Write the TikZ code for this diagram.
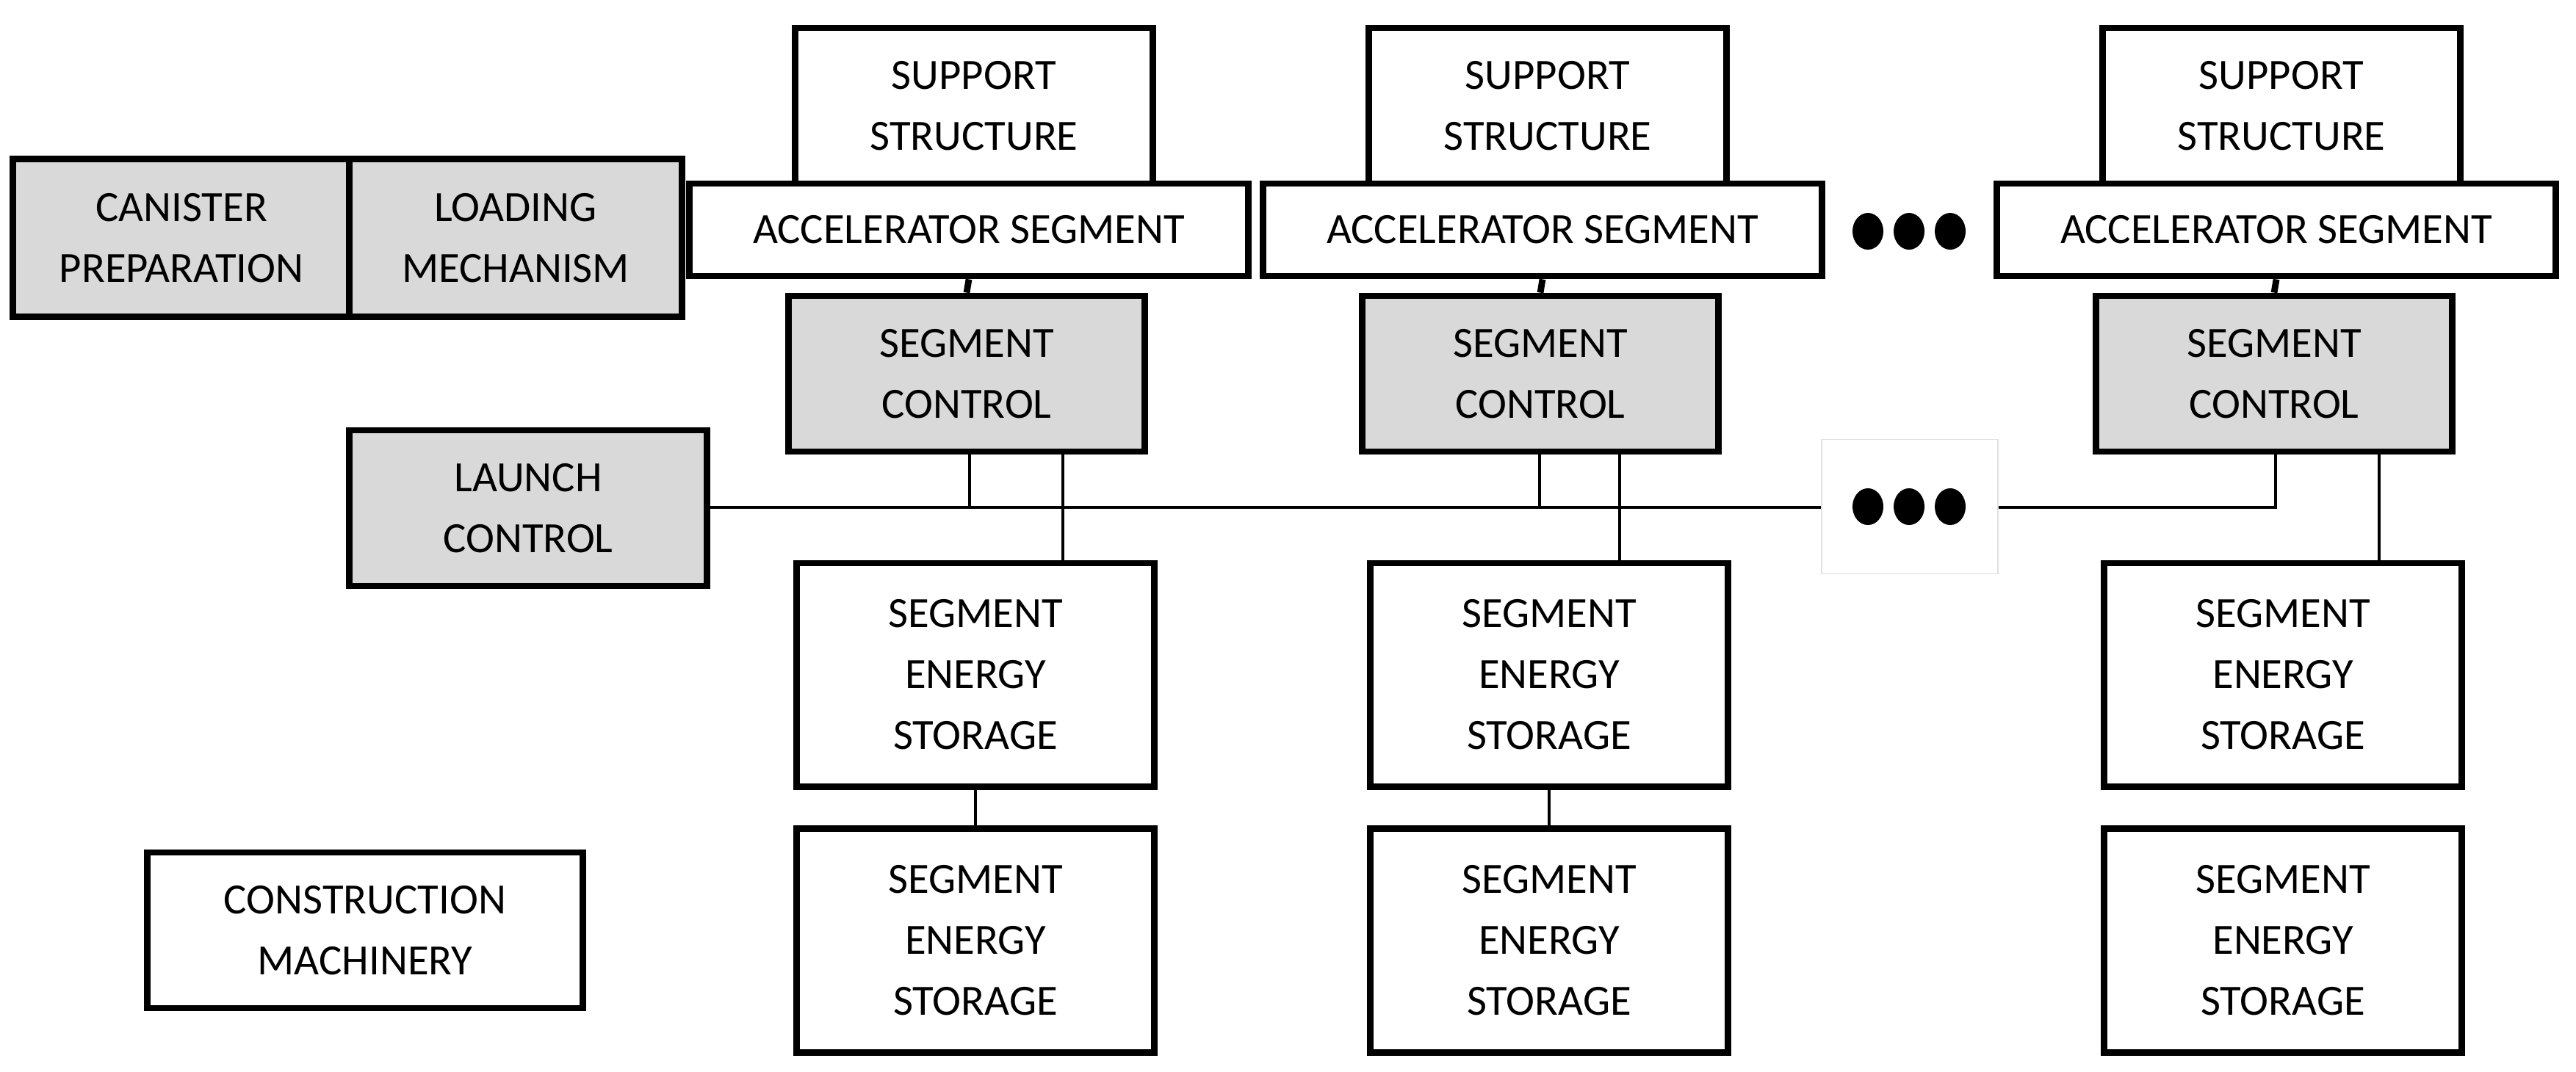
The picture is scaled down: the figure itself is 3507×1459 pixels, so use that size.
\documentclass[tikz,border=0pt]{standalone}
\usepackage{fontspec}
\usetikzlibrary{shapes.geometric}
\setmainfont{Carlito}
\begin{document}
\begin{tikzpicture}[x=0.01cm,y=-0.01cm,
  box/.style={draw,line width=2.5pt,align=center,inner sep=0pt,font=\fontsize{16.7}{23.6}\selectfont},
  gbox/.style={box,fill=black!15},
  thin/.style={line width=1.3pt},
  dot/.style={ellipse,fill=black,minimum width=0.42cm,minimum height=0.5cm,inner sep=0pt}]
\useasboundingbox (0,0) rectangle (3507,1459);
\foreach \n/\dx/\ax/\bx in {1/0/1320/1447, 2/781/2096/2205, 3/1780/3098/3239}{
  \node[box,minimum width=4.87cm,minimum height=2.12cm] (sup\n) at (1326+\dx,144) {SUPPORT\\STRUCTURE};
  \node[box,minimum width=7.61cm,minimum height=1.26cm] (acc\n) at (1319+\dx,313) {ACCELERATOR SEGMENT};
  \node[gbox,minimum width=4.85cm,minimum height=2.12cm] (ctl\n) at (1316+\dx,509) {SEGMENT\\CONTROL};
  \node[box,minimum width=4.87cm,minimum height=3.04cm] (ea\n) at (1328+\dx,919) {SEGMENT\\ENERGY\\STORAGE};
  \node[box,minimum width=4.87cm,minimum height=3.05cm] (eb\n) at (1328+\dx,1281) {SEGMENT\\ENERGY\\STORAGE};
  \draw[line width=2.5pt] (acc\n.south) -- (ctl\n.north);
  \draw[thin] (\bx,0 |- ctl\n.south) -- (\bx,0 |- ea\n.north);
}
\draw[thin] (ea1.south) -- (eb1.north);
\draw[thin] (ea2.south) -- (eb2.north);
\node[gbox,minimum width=4.58cm,minimum height=2.15cm] (can) at (247,324) {CANISTER\\PREPARATION};
\node[gbox,minimum width=4.52cm,minimum height=2.15cm] (load) at (702,324) {LOADING\\MECHANISM};
\node[gbox,minimum width=4.86cm,minimum height=2.12cm] (lc) at (719,692) {LAUNCH\\CONTROL};
\node[box,minimum width=5.93cm,minimum height=2.12cm] (cm) at (497,1267) {CONSTRUCTION\\MACHINERY};
\node[draw=black!12,line width=0.5pt,minimum width=2.4cm,minimum height=1.83cm] (dbox) at (2600,690) {};
\node[dot] (d1) at (2543,315) {};
\node[dot] (d2) at (2599,315) {};
\node[dot] (d3) at (2655,315) {};
\node[dot] (e1) at (2543,690) {};
\node[dot] (e2) at (2599,690) {};
\node[dot] (e3) at (2655,690) {};
\draw[thin] (lc.east |- 0,691) -- (dbox.west |- 0,691);
\draw[thin] (1320,0 |- ctl1.south) -- (1320,691);
\draw[thin] (2096,0 |- ctl2.south) -- (2096,691);
\draw[thin] (dbox.east |- 0,691) -- (3098,691) -- (3098,0 |- ctl3.south);
\end{tikzpicture}
\end{document}
